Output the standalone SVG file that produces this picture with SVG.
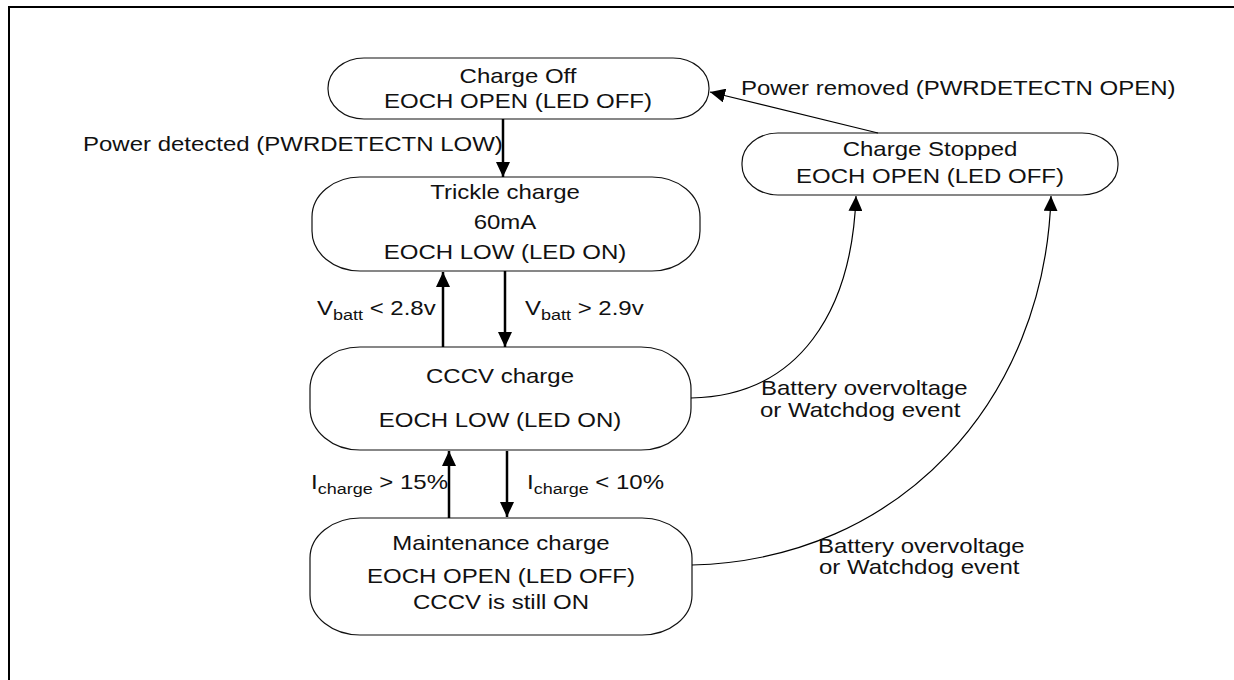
<svg xmlns="http://www.w3.org/2000/svg" width="1234" height="680" viewBox="0 0 1234 680">
<style>
text{font-family:"Liberation Sans",Arial,sans-serif;font-size:20px;fill:#111}
.c{text-anchor:middle}
.l{text-anchor:start}
.sub{font-size:15px}
.node{fill:#fff;stroke:#111;stroke-width:1.2}
.thick{fill:none;stroke:#000;stroke-width:2.5}
.thin{fill:none;stroke:#000;stroke-width:1.2}
</style>
<defs>
<marker id="ah" markerUnits="userSpaceOnUse" markerWidth="16" markerHeight="14" refX="15" refY="7" orient="auto"><path d="M0,0 L15,7 L0,14 z" fill="#000"/></marker>
</defs>
<rect width="1234" height="680" fill="#fff"/>
<path d="M9,680 V7 H1234" fill="none" stroke="#000" stroke-width="2"/>

<g id="charge-off">
<rect class="node" x="328" y="58" width="381" height="61" rx="36" ry="30"/>
<text class="c" transform="translate(518,83) scale(1.2,1)">Charge Off</text>
<text class="c" transform="translate(518,108) scale(1.2,1)">EOCH OPEN (LED OFF)</text>
</g>
<g id="trickle">
<rect class="node" x="312" y="177" width="388" height="94" rx="48" ry="40"/>
<text class="c" transform="translate(505,199) scale(1.2,1)">Trickle charge</text>
<text class="c" transform="translate(505,229) scale(1.2,1)">60mA</text>
<text class="c" transform="translate(505,259) scale(1.2,1)">EOCH LOW (LED ON)</text>
</g>
<g id="cccv">
<rect class="node" x="310" y="347" width="381" height="103" rx="50" ry="42"/>
<text class="c" transform="translate(500,383) scale(1.2,1)">CCCV charge</text>
<text class="c" transform="translate(500,427) scale(1.2,1)">EOCH LOW (LED ON)</text>
</g>
<g id="maintenance">
<rect class="node" x="310" y="518" width="382" height="117" rx="50" ry="40"/>
<text class="c" transform="translate(501,550) scale(1.2,1)">Maintenance charge</text>
<text class="c" transform="translate(501,583) scale(1.2,1)">EOCH OPEN (LED OFF)</text>
<text class="c" transform="translate(501,609) scale(1.2,1)">CCCV is still ON</text>
</g>
<g id="charge-stopped">
<rect class="node" x="742" y="133" width="376" height="62" rx="36" ry="30"/>
<text class="c" transform="translate(930,156) scale(1.2,1)">Charge Stopped</text>
<text class="c" transform="translate(930,183) scale(1.2,1)">EOCH OPEN (LED OFF)</text>
</g>

<g id="connectors">
<line class="thick" x1="503" y1="119" x2="503" y2="177" marker-end="url(#ah)"/>
<line class="thick" x1="505" y1="271" x2="505" y2="347" marker-end="url(#ah)"/>
<line class="thick" x1="443" y1="347" x2="443" y2="272" marker-end="url(#ah)"/>
<line class="thick" x1="507" y1="451" x2="507" y2="517" marker-end="url(#ah)"/>
<line class="thick" x1="449" y1="518" x2="449" y2="451" marker-end="url(#ah)"/>
<line class="thin" x1="878" y1="133" x2="710" y2="92" marker-end="url(#ah)"/>
<path class="thin" d="M691,398 C800,396 852,310 856,196" marker-end="url(#ah)"/>
<path class="thin" d="M692,565 C900,560 1045,400 1051,196" marker-end="url(#ah)"/>
</g>

<g id="labels">
<text class="l" transform="translate(83,151) scale(1.2,1)">Power detected (PWRDETECTN LOW)</text>
<text class="l" transform="translate(741,95) scale(1.2,1)">Power removed (PWRDETECTN OPEN)</text>
<text class="l" transform="translate(317,315) scale(1.2,1)">V<tspan class="sub" dy="5">batt</tspan><tspan dy="-5"> &lt; 2.8v</tspan></text>
<text class="l" transform="translate(525,315) scale(1.2,1)">V<tspan class="sub" dy="5">batt</tspan><tspan dy="-5"> &gt; 2.9v</tspan></text>
<text class="l" transform="translate(311,489) scale(1.2,1)">I<tspan class="sub" dy="5">charge</tspan><tspan dy="-5"> &gt; 15%</tspan></text>
<text class="l" transform="translate(527,489) scale(1.2,1)">I<tspan class="sub" dy="5">charge</tspan><tspan dy="-5"> &lt; 10%</tspan></text>
<text class="l" transform="translate(761,395) scale(1.2,1)">Battery overvoltage</text>
<text class="l" transform="translate(760,417) scale(1.2,1)">or Watchdog event</text>
<text class="l" transform="translate(818,553) scale(1.2,1)">Battery overvoltage</text>
<text class="l" transform="translate(819,574) scale(1.2,1)">or Watchdog event</text>
</g>
</svg>
